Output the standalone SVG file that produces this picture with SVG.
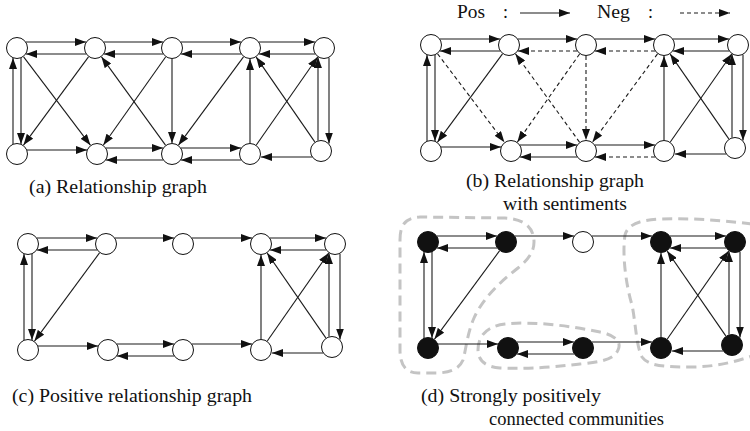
<svg xmlns="http://www.w3.org/2000/svg" width="750" height="431" viewBox="0 0 750 431">
  <defs>
    <marker id="ah" viewBox="0 0 11 8" refX="11" refY="4" markerWidth="11" markerHeight="8" markerUnits="userSpaceOnUse" orient="auto">
      <path d="M0,0 L11,4 L0,8 z" fill="#111"/>
    </marker>
    <filter id="soft" x="-10%" y="-10%" width="120%" height="120%">
      <feGaussianBlur stdDeviation="0.7"/>
    </filter>
  </defs>
  <style>
    .e{stroke:#1a1a1a;stroke-width:1.1;fill:none;marker-end:url(#ah)}
    .neg{stroke-dasharray:4 3}
    .node{fill:#fff;stroke:#111;stroke-width:1}
    .dark{fill:#111}
    .txt{font-family:"Liberation Serif","Times New Roman",serif;font-size:18px;fill:#111}
    .blob{fill:none;stroke:#c4c4c4;stroke-width:3;stroke-dasharray:10 6;filter:url(#soft)}
  </style>
  <rect width="750" height="431" fill="#fff"/>

  <!-- legend -->
  <g id="legend">
    <text class="txt" x="457" y="18" textLength="28" lengthAdjust="spacingAndGlyphs">Pos</text>
    <text class="txt" x="503" y="18">:</text>
    <line class="e" x1="520" y1="13" x2="570" y2="13"/>
    <text class="txt" x="597" y="18" textLength="33" lengthAdjust="spacingAndGlyphs">Neg</text>
    <text class="txt" x="648" y="18">:</text>
    <line class="e neg" x1="680" y1="13" x2="730" y2="13"/>
  </g>

  <!-- community outlines -->
  <g id="communities">
    <path class="blob" d="M400,240 C400,225 405,218 420,217 L505,218 C525,219 534,228 534,242 C534,252 528,260 518,268 C500,282 483,298 474,318 C467,334 466,350 463,360 C459,370 448,373 435,373 L418,373 C405,373 400,364 400,350 Z"/>
    <path class="blob" d="M478,350 C478,335 488,326 505,324 C535,321 570,326 600,332 C615,335 622,342 618,350 C614,360 600,362 580,364 C555,367 530,369 500,368 C485,367 478,360 478,350 Z"/>
    <path class="blob" d="M752,224 C720,220 690,218 660,219 C640,220 628,224 625,235 C622,255 626,285 632,305 C636,325 636,345 642,357 C648,366 665,367 690,367 C715,367 735,362 752,356"/>
  </g>

  <!-- connectors -->
  <g id="connectors">
    <g id="edges-a" transform="translate(17,48)">
      <line class="e" x1="9" y1="-6" x2="69" y2="-6"/>
      <line class="e" x1="69" y1="6" x2="9" y2="6"/>
      <line class="e" x1="87" y1="-6" x2="146" y2="-6"/>
      <line class="e" x1="146" y1="6" x2="87" y2="6"/>
      <line class="e" x1="164" y1="-6" x2="224" y2="-6"/>
      <line class="e" x1="224" y1="6" x2="164" y2="6"/>
      <line class="e" x1="242" y1="-6" x2="298" y2="-6"/>
      <line class="e" x1="298" y1="6" x2="242" y2="6"/>
      <line class="e" x1="-4" y1="96" x2="-4" y2="10"/>
      <line class="e" x1="4" y1="10" x2="4" y2="96"/>
      <line class="e" x1="6.6" y1="8.8" x2="73.4" y2="97.2"/>
      <line class="e" x1="71.5" y1="8.9" x2="6.5" y2="97.1"/>
      <line class="e" x1="148.5" y1="97.1" x2="84.5" y2="8.9"/>
      <line class="e" x1="148.6" y1="9" x2="86.4" y2="97"/>
      <line class="e" x1="155" y1="11" x2="155" y2="95"/>
      <line class="e" x1="226.5" y1="8.9" x2="161.5" y2="97.1"/>
      <line class="e" x1="10" y1="102" x2="70" y2="102"/>
      <line class="e" x1="89" y1="100" x2="146" y2="100"/>
      <line class="e" x1="146" y1="112" x2="89" y2="112"/>
      <line class="e" x1="164" y1="100" x2="224" y2="100"/>
      <line class="e" x1="224" y1="112" x2="164" y2="112"/>
      <line class="e" x1="295" y1="109" x2="244" y2="109"/>
      <line class="e" x1="233" y1="95" x2="233" y2="11"/>
      <line class="e" x1="239.3" y1="97" x2="300.7" y2="9"/>
      <line class="e" x1="297.8" y1="93.9" x2="239.2" y2="9.1"/>
      <line class="e" x1="301" y1="92.4" x2="301" y2="9.2"/>
      <line class="e" x1="312" y1="9.8" x2="312" y2="95.5"/>
    </g>
    <g id="edges-b" transform="translate(431,45)">
      <line class="e" x1="9" y1="-6" x2="69" y2="-6"/>
      <line class="e" x1="69" y1="6" x2="9" y2="6"/>
      <line class="e" x1="87" y1="-6" x2="146" y2="-6"/>
      <line class="e neg" x1="146" y1="6" x2="87" y2="6"/>
      <line class="e" x1="164" y1="-6" x2="224" y2="-6"/>
      <line class="e neg" x1="224" y1="6" x2="164" y2="6"/>
      <line class="e" x1="242" y1="-6" x2="298" y2="-6"/>
      <line class="e" x1="298" y1="6" x2="242" y2="6"/>
      <line class="e" x1="-4" y1="96" x2="-4" y2="10"/>
      <line class="e" x1="4" y1="10" x2="4" y2="96"/>
      <line class="e neg" x1="6.6" y1="8.8" x2="73.4" y2="97.2"/>
      <line class="e" x1="71.5" y1="8.9" x2="6.5" y2="97.1"/>
      <line class="e neg" x1="148.5" y1="97.1" x2="84.5" y2="8.9"/>
      <line class="e neg" x1="148.6" y1="9" x2="86.4" y2="97"/>
      <line class="e neg" x1="155" y1="11" x2="155" y2="95"/>
      <line class="e neg" x1="226.5" y1="8.9" x2="161.5" y2="97.1"/>
      <line class="e" x1="10" y1="102" x2="70" y2="102"/>
      <line class="e" x1="89" y1="100" x2="146" y2="100"/>
      <line class="e" x1="146" y1="112" x2="89" y2="112"/>
      <line class="e" x1="164" y1="100" x2="224" y2="100"/>
      <line class="e neg" x1="224" y1="112" x2="164" y2="112"/>
      <line class="e" x1="295" y1="109" x2="244" y2="109"/>
      <line class="e" x1="233" y1="95" x2="233" y2="11"/>
      <line class="e" x1="239.3" y1="97" x2="300.7" y2="9"/>
      <line class="e" x1="297.8" y1="93.9" x2="239.2" y2="9.1"/>
      <line class="e" x1="301" y1="92.4" x2="301" y2="9.2"/>
      <line class="e" x1="312" y1="9.8" x2="312" y2="95.5"/>
    </g>
    <g id="edges-c" transform="translate(28,244)">
      <line class="e" x1="9" y1="-6" x2="69" y2="-6"/>
      <line class="e" x1="69" y1="6" x2="9" y2="6"/>
      <line class="e" x1="87" y1="-6" x2="146" y2="-6"/>
      <line class="e" x1="164" y1="-6" x2="224" y2="-6"/>
      <line class="e" x1="242" y1="-6" x2="298" y2="-6"/>
      <line class="e" x1="298" y1="6" x2="242" y2="6"/>
      <line class="e" x1="-4" y1="96" x2="-4" y2="10"/>
      <line class="e" x1="4" y1="10" x2="4" y2="96"/>
      <line class="e" x1="71.5" y1="8.9" x2="6.5" y2="97.1"/>
      <line class="e" x1="10" y1="102" x2="70" y2="102"/>
      <line class="e" x1="89" y1="100" x2="146" y2="100"/>
      <line class="e" x1="146" y1="112" x2="89" y2="112"/>
      <line class="e" x1="164" y1="100" x2="224" y2="100"/>
      <line class="e" x1="295" y1="109" x2="244" y2="109"/>
      <line class="e" x1="233" y1="95" x2="233" y2="11"/>
      <line class="e" x1="239.3" y1="97" x2="300.7" y2="9"/>
      <line class="e" x1="297.8" y1="93.9" x2="239.2" y2="9.1"/>
      <line class="e" x1="301" y1="92.4" x2="301" y2="9.2"/>
      <line class="e" x1="312" y1="9.8" x2="312" y2="95.5"/>
    </g>
    <g id="edges-d" transform="translate(428,242)">
      <line class="e" x1="9" y1="-6" x2="69" y2="-6"/>
      <line class="e" x1="69" y1="6" x2="9" y2="6"/>
      <line class="e" x1="87" y1="-6" x2="146" y2="-6"/>
      <line class="e" x1="164" y1="-6" x2="224" y2="-6"/>
      <line class="e" x1="242" y1="-6" x2="298" y2="-6"/>
      <line class="e" x1="298" y1="6" x2="242" y2="6"/>
      <line class="e" x1="-4" y1="96" x2="-4" y2="10"/>
      <line class="e" x1="4" y1="10" x2="4" y2="96"/>
      <line class="e" x1="71.5" y1="8.9" x2="6.5" y2="97.1"/>
      <line class="e" x1="10" y1="102" x2="70" y2="102"/>
      <line class="e" x1="89" y1="100" x2="146" y2="100"/>
      <line class="e" x1="146" y1="112" x2="89" y2="112"/>
      <line class="e" x1="164" y1="100" x2="224" y2="100"/>
      <line class="e" x1="295" y1="109" x2="244" y2="109"/>
      <line class="e" x1="233" y1="95" x2="233" y2="11"/>
      <line class="e" x1="239.3" y1="97" x2="300.7" y2="9"/>
      <line class="e" x1="297.8" y1="93.9" x2="239.2" y2="9.1"/>
      <line class="e" x1="301" y1="92.4" x2="301" y2="9.2"/>
      <line class="e" x1="312" y1="9.8" x2="312" y2="95.5"/>
    </g>
  </g>

  <!-- nodes: panel (a) -->
  <g id="a-t0"><circle class="node" cx="17" cy="48" r="10.5"/></g>
  <g id="a-t1"><circle class="node" cx="95" cy="48" r="10.5"/></g>
  <g id="a-t2"><circle class="node" cx="172" cy="48" r="10.5"/></g>
  <g id="a-t3"><circle class="node" cx="250" cy="48" r="10.5"/></g>
  <g id="a-t4"><circle class="node" cx="324" cy="48" r="10.5"/></g>
  <g id="a-b0"><circle class="node" cx="17" cy="154" r="10.5"/></g>
  <g id="a-b1"><circle class="node" cx="97" cy="154" r="10.5"/></g>
  <g id="a-b2"><circle class="node" cx="172" cy="154" r="10.5"/></g>
  <g id="a-b3"><circle class="node" cx="250" cy="154" r="10.5"/></g>
  <g id="a-b4"><circle class="node" cx="321" cy="151" r="10.5"/></g>

  <!-- nodes: panel (b) -->
  <g id="b-t0"><circle class="node" cx="431" cy="45" r="10.5"/></g>
  <g id="b-t1"><circle class="node" cx="509" cy="45" r="10.5"/></g>
  <g id="b-t2"><circle class="node" cx="586" cy="45" r="10.5"/></g>
  <g id="b-t3"><circle class="node" cx="664" cy="45" r="10.5"/></g>
  <g id="b-t4"><circle class="node" cx="738" cy="45" r="10.5"/></g>
  <g id="b-b0"><circle class="node" cx="431" cy="151" r="10.5"/></g>
  <g id="b-b1"><circle class="node" cx="511" cy="151" r="10.5"/></g>
  <g id="b-b2"><circle class="node" cx="586" cy="151" r="10.5"/></g>
  <g id="b-b3"><circle class="node" cx="664" cy="151" r="10.5"/></g>
  <g id="b-b4"><circle class="node" cx="735" cy="148" r="10.5"/></g>

  <!-- nodes: panel (c) -->
  <g id="c-t0"><circle class="node" cx="28" cy="244" r="10.5"/></g>
  <g id="c-t1"><circle class="node" cx="106" cy="244" r="10.5"/></g>
  <g id="c-t2"><circle class="node" cx="183" cy="244" r="10.5"/></g>
  <g id="c-t3"><circle class="node" cx="261" cy="244" r="10.5"/></g>
  <g id="c-t4"><circle class="node" cx="335" cy="244" r="10.5"/></g>
  <g id="c-b0"><circle class="node" cx="28" cy="350" r="10.5"/></g>
  <g id="c-b1"><circle class="node" cx="108" cy="350" r="10.5"/></g>
  <g id="c-b2"><circle class="node" cx="183" cy="350" r="10.5"/></g>
  <g id="c-b3"><circle class="node" cx="261" cy="350" r="10.5"/></g>
  <g id="c-b4"><circle class="node" cx="332" cy="347" r="10.5"/></g>

  <!-- nodes: panel (d) -->
  <g id="d-t0"><circle class="node dark" cx="428" cy="242" r="10.5"/></g>
  <g id="d-t1"><circle class="node dark" cx="506" cy="242" r="10.5"/></g>
  <g id="d-t2"><circle class="node" cx="583" cy="242" r="10.5"/></g>
  <g id="d-t3"><circle class="node dark" cx="661" cy="242" r="10.5"/></g>
  <g id="d-t4"><circle class="node dark" cx="735" cy="242" r="10.5"/></g>
  <g id="d-b0"><circle class="node dark" cx="428" cy="348" r="10.5"/></g>
  <g id="d-b1"><circle class="node dark" cx="508" cy="348" r="10.5"/></g>
  <g id="d-b2"><circle class="node dark" cx="583" cy="348" r="10.5"/></g>
  <g id="d-b3"><circle class="node dark" cx="661" cy="348" r="10.5"/></g>
  <g id="d-b4"><circle class="node dark" cx="732" cy="345" r="10.5"/></g>

  <!-- captions -->
  <g id="captions">
    <text class="txt" x="29" y="193" textLength="178" lengthAdjust="spacingAndGlyphs">(a) Relationship graph</text>
    <text class="txt" x="466" y="187" textLength="178" lengthAdjust="spacingAndGlyphs">(b) Relationship graph</text>
    <text class="txt" x="503" y="210" textLength="124" lengthAdjust="spacingAndGlyphs">with sentiments</text>
    <text class="txt" x="12" y="402" textLength="240" lengthAdjust="spacingAndGlyphs">(c) Positive relationship graph</text>
    <text class="txt" x="421" y="402" textLength="180" lengthAdjust="spacingAndGlyphs">(d) Strongly positively</text>
    <text class="txt" x="489" y="425" textLength="175" lengthAdjust="spacingAndGlyphs">connected communities</text>
  </g>
</svg>
